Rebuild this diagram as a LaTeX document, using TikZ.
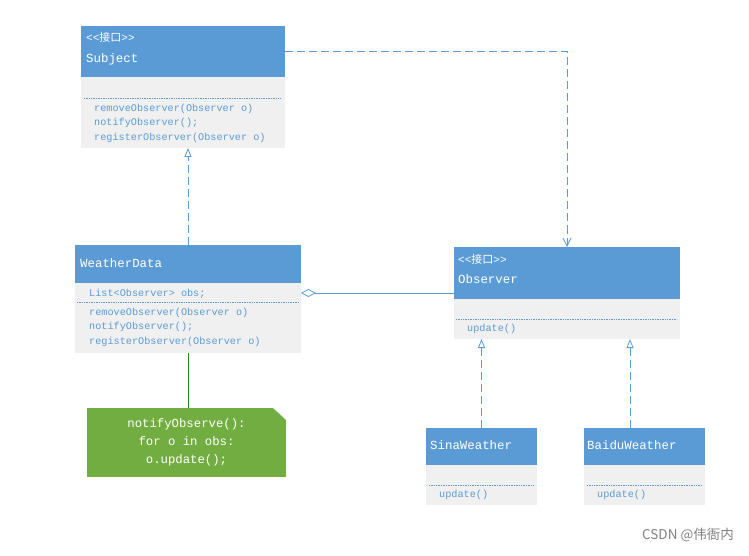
\documentclass[tikz,border=0pt]{standalone}
\usepackage{fontspec}
\setmonofont{Liberation Mono}
\newfontfamily\cjk{Noto Sans CJK SC}
\usetikzlibrary{arrows.meta,positioning,calc}
\definecolor{umlblue}{HTML}{5B9BD5}
\definecolor{umlgray}{HTML}{F0F0F0}
\definecolor{notegreen}{HTML}{72AD42}
\tikzset{
  head/.style={fill=umlblue, anchor=north west, inner sep=0pt, outer sep=0pt},
  body/.style={fill=umlgray, anchor=north west, inner sep=0pt, outer sep=0pt},
  clsname/.style={anchor=base west, text=white, inner sep=0pt, font=\ttfamily\fontsize{12.4}{14}\selectfont},
  stereo/.style={anchor=base west, text=white, inner sep=0pt, font=\ttfamily\fontsize{11}{13}\selectfont},
  member/.style={anchor=base west, text=umlblue, inner sep=0pt, font=\ttfamily\fontsize{10.2}{12}\selectfont},
  sepline/.style={umlblue, densely dotted, line width=0.7pt},
  link/.style={umlblue, line width=0.8pt},
  realize/.style={link, dash pattern=on 8pt off 4pt, -{Triangle[open, length=9pt, width=7pt]}},
  depend/.style={link, dash pattern=on 8pt off 4pt, -{Straight Barb[length=8pt, width=8pt]}},
  aggr/.style={link, {Diamond[open, length=15pt, width=8pt]}-},
}
\begin{document}
\begin{tikzpicture}[x=1pt, y=-1pt, line join=round, >=stealth]
  \useasboundingbox (0,0) rectangle (749,556);
  % Subject
  \node[head, minimum width=204, minimum height=51] (subjH) at (81,26) {};
  \node[body, minimum width=204, minimum height=71] (subj) at (81,77) {};
  \node[stereo] (subjS) at (86,42) {<<{\cjk 接口}>>};
  \node[clsname] (subjN) at (86,63) {Subject};
  \draw[sepline] (84,98) -- (281,98);
  \foreach \m [count=\i] in {{removeObserver(Observer o)},{notifyObserver();},{registerObserver(Observer o)}}
    \node[member] (subjM\i) at (94,{111.5+14.3*(\i-1)}) {\m};
  % WeatherData
  \node[head, minimum width=226, minimum height=38] (wdH) at (75,245) {};
  \node[body, minimum width=226, minimum height=70] (wd) at (75,283) {};
  \node[clsname] (wdN) at (80,267) {WeatherData};
  \node[member] (wdF) at (89,296.5) {List<Observer> obs;};
  \draw[sepline] (77,302.5) -- (299,302.5);
  \foreach \m [count=\i] in {{removeObserver(Observer o)},{notifyObserver();},{registerObserver(Observer o)}}
    \node[member] (wdM\i) at (89,{315.5+14.4*(\i-1)}) {\m};
  % Observer
  \node[head, minimum width=226, minimum height=52] (obsH) at (454,247) {};
  \node[body, minimum width=226, minimum height=40] (obs) at (454,299) {};
  \node[stereo] (obsS) at (458,263) {<<{\cjk 接口}>>};
  \node[clsname] (obsN) at (458,283.5) {Observer};
  \draw[sepline] (456,319) -- (677,319);
  \node[member] (obsM) at (467,331) {update()};
  % SinaWeather
  \node[head, minimum width=111, minimum height=37] (sinaH) at (426,428) {};
  \node[body, minimum width=111, minimum height=40] (sina) at (426,465) {};
  \node[clsname] (sinaN) at (430,449) {SinaWeather};
  \draw[sepline] (429,485) -- (534,485);
  \node[member] (sinaM) at (439,497) {update()};
  % BaiduWeather
  \node[head, minimum width=121, minimum height=37] (baiduH) at (584,428) {};
  \node[body, minimum width=121, minimum height=40] (baidu) at (584,465) {};
  \node[clsname] (baiduN) at (587,449) {BaiduWeather};
  \draw[sepline] (587,485) -- (702,485);
  \node[member] (baiduM) at (597,497) {update()};
  % note
  \node[fill=notegreen, text=white, align=center, inner sep=0pt, minimum width=199, minimum height=69,
        font=\ttfamily\fontsize{12.3}{17.8}\selectfont] (note) at (186.5,442.5)
        {notifyObserve():\\for o in obs:\\o.update();};
  \fill[white] (note.north east) ++(-13,0) -- ++(13,0) -- ++(0,12) -- cycle;
  \draw[green!15!white, line width=0.5pt] (note.north east) ++(-13,0) -- ++(13,12);
  % connectors
  \coordinate (wdAgg) at ($(wd.north east)+(0,10)$);
  \coordinate (baiduTop) at (630,428);
  \draw[depend] (subjH.east) -| (obsH.north);
  \draw[realize] (wdH.north) -- (wdH.north |- subj.south);
  \draw[aggr] (wdAgg) -- (wdAgg -| obsH.west);
  \draw[realize] (sinaH.north) -- (sinaH.north |- obs.south);
  \draw[realize] (baiduTop) -- (baiduTop |- obs.south);
  \draw[green!50!black!70!notegreen, line width=0.8pt] (wd.south) -- (wd.south |- note.north);
  % watermark
  \node[anchor=base east, text=black!50, inner sep=0pt, font=\cjk\fontsize{13.5}{15}\selectfont] (mark) at (734,539) {CSDN @伟衙内};
\end{tikzpicture}
\end{document}
